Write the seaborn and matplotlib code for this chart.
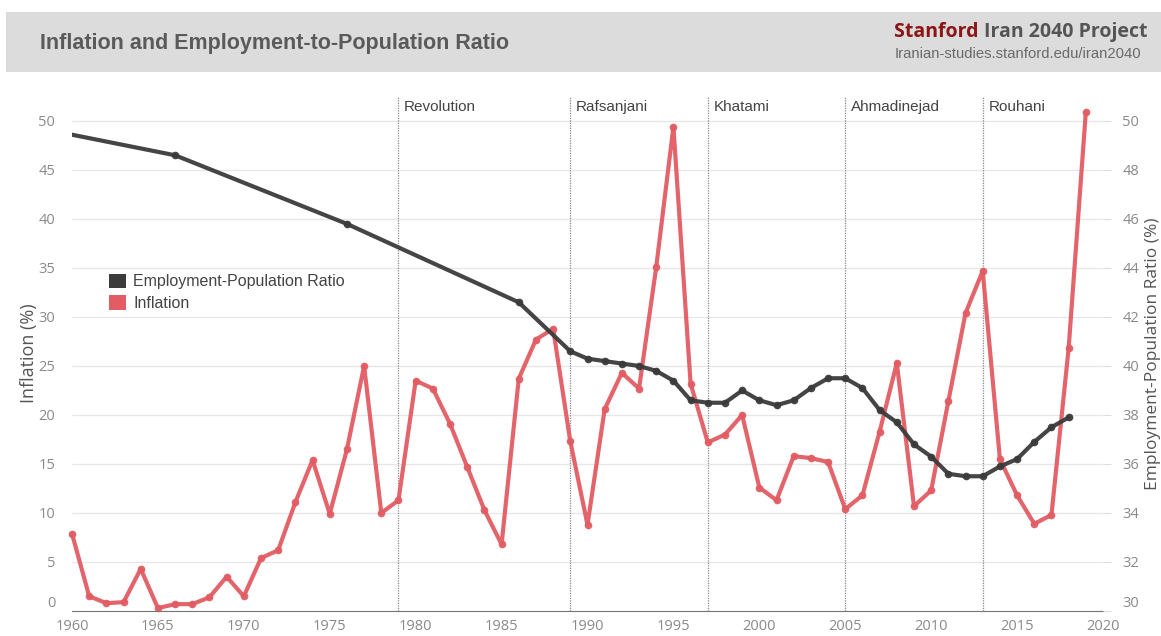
import matplotlib
matplotlib.use("Agg")
import matplotlib.pyplot as plt
import matplotlib.transforms as mtransforms
from matplotlib.patches import Patch, Rectangle
import seaborn as sns

# inflation, annual, 1960-2019 (%)
infl_years = list(range(1960, 2020))
inflation = [7.9, 1.5, 0.8, 0.9, 4.3, 0.3, 0.7, 0.7, 1.4, 3.5,
             1.5, 5.4, 6.2, 11.1, 15.4, 9.9, 16.5, 25.0, 10.0, 11.3,
             23.5, 22.7, 19.1, 14.7, 10.3, 6.8, 23.7, 27.7, 28.8, 17.3,
             8.8, 20.6, 24.3, 22.7, 35.1, 49.4, 23.2, 17.2, 18.0, 20.0,
             12.6, 11.3, 15.8, 15.6, 15.2, 10.4, 11.8, 18.3, 25.3, 10.7,
             12.3, 21.4, 30.4, 34.7, 15.5, 11.8, 8.9, 9.8, 26.8, 50.9]

# employment-to-population ratio (%), census years then annual
emp_years = [1956, 1966, 1976, 1986, 1989] + list(range(1990, 2019))
employment = [50.0, 48.6, 45.8, 42.6, 40.6,
              40.3, 40.2, 40.1, 40.0, 39.8, 39.4, 38.6, 38.5, 38.5, 39.0,
              38.6, 38.4, 38.6, 39.1, 39.5, 39.5, 39.1, 38.2, 37.7, 36.8,
              36.3, 35.6, 35.5, 35.5, 35.9, 36.2, 36.9, 37.5, 37.9]

period_years = [1979, 1989, 1997, 2005, 2013]
period_names = ["Revolution", "Rafsanjani", "Khatami", "Ahmadinejad", "Rouhani"]

RED = "#e25c63"
DARK = "#3b3b3b"
TICK_GRAY = "#8a8a8a"

sns.set_style("white")
plt.rcParams['font.family'] = ['Open Sans', 'DejaVu Sans']

fig = plt.figure(figsize=(11.61, 6.36), dpi=100)
ax = fig.add_axes([72 / 1161, 1 - 611 / 636, (1103 - 72) / 1161, (611 - 96) / 636])
ax2 = ax.twinx()

# header band
fig.patches.append(Rectangle((6 / 1161, 1 - 72 / 636), 1 - 6 / 1161, 60 / 636,
                             transform=fig.transFigure, facecolor="#dcdcdc",
                             edgecolor="none", zorder=0))
fig.text(40 / 1161, 1 - 43 / 636, "Inflation and Employment-to-Population Ratio",
         fontsize=15.5, fontweight="bold", color="#5a5a5a", va="center",
         family="Liberation Sans")
t = fig.text(1147 / 1161, 1 - 32 / 636, "Iran 2040 Project", fontsize=14,
             fontweight="bold", color="#555555", ha="right", va="center",
             family="Open Sans")
fig.texts.append(plt.Annotation("Stanford ", xy=(0, 0.5), xycoords=t, ha="right",
                                va="center", fontsize=14, fontweight="bold",
                                color="#8c1515", family="Open Sans"))
fig.texts[-1].set_figure(fig)
fig.text(1141 / 1161, 1 - 54 / 636, "Iranian-studies.stanford.edu/iran2040",
         fontsize=10.7, color="#6a6a6a", ha="right", va="center", family="Liberation Sans")

sns.lineplot(x=infl_years, y=inflation, ax=ax, color=RED, linewidth=3,
             marker="o", markersize=5.5, markeredgewidth=0, alpha=0.95)
sns.lineplot(x=emp_years, y=employment, ax=ax2, color=DARK, linewidth=3,
             marker="o", markersize=5.5, markeredgewidth=0, alpha=0.95)
for ln in ax.lines:
    ln.set_clip_on(False)

ax.set_xlim(1960, 2020)
ax.set_ylim(0, 52.55)
ax2.set_ylim(30, 51.02)

ax.set_yticks(range(0, 51, 5))
ax2.set_yticks(range(30, 51, 2))
ax.set_xticks(range(1960, 2021, 5))
ax.yaxis.grid(True, color="#e6e6e6", linewidth=0.9)
ax.set_axisbelow(True)

for a in (ax, ax2):
    for s in ("top", "left", "right"):
        a.spines[s].set_visible(False)
ax.spines["bottom"].set_color("#777777")
ax2.spines["bottom"].set_visible(False)

ax.tick_params(axis="y", length=0, pad=12, labelsize=10.5, labelcolor=TICK_GRAY)
ax.tick_params(axis="x", length=4, width=1, color="#555555", pad=2,
               labelsize=10.5, labelcolor=TICK_GRAY)
ax2.tick_params(axis="y", length=6, width=0.8, color="#dddddd", pad=8,
                labelsize=10.5, labelcolor=TICK_GRAY)

# lift the bottom-most labels off the axis line
lift = mtransforms.ScaledTranslation(0, 7 / 72, fig.dpi_scale_trans)
ax.get_yticklabels()[0].set_transform(ax.get_yticklabels()[0].get_transform() + lift)
ax2.get_yticklabels()[0].set_transform(ax2.get_yticklabels()[0].get_transform() + lift)

ax.set_xlabel("")
ax.set_ylabel("Inflation (%)", fontsize=13, color="#555555", labelpad=0)
ax2.set_ylabel("Employment-Population Ratio (%)", fontsize=12.5, color="#555555",
               labelpad=4)

# presidential periods
for yr, name in zip(period_years, period_names):
    ax.axvline(yr, color="#888888", linestyle=(0, (1, 1)), linewidth=0.9, zorder=1)
    ax.annotate(name, xy=(yr, 1), xycoords=("data", "axes fraction"),
                xytext=(4, -8), textcoords="offset points", ha="left", va="center",
                fontsize=11, color="#444444", family="Liberation Sans")

handles = [Patch(facecolor=DARK, edgecolor="none"), Patch(facecolor=RED, edgecolor="none")]
leg = ax2.legend(handles, ["Employment-Population Ratio", "Inflation"],
                 loc="upper left", bbox_to_anchor=(0.022, 0.683), frameon=False,
                 handlelength=1.05, handleheight=1.05, handletextpad=0.45,
                 labelspacing=0.35, prop={"family": "Liberation Sans", "size": 11.5})
for txt in leg.get_texts():
    txt.set_color("#444444")

fig.savefig("out.png", dpi=100)
